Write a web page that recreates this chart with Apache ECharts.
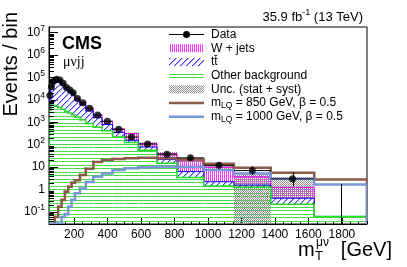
<!DOCTYPE html>
<html>
<head>
<meta charset="utf-8">
<script src="https://cdn.jsdelivr.net/npm/echarts@6.0.0/dist/echarts.min.js"></script>
<style>
html,body{margin:0;padding:0;background:#ffffff;}
#chart{width:407px;height:267px;}
</style>
</head>
<body>
<div id="chart"></div>
<script>
// ---------------- data ----------------
const binEdges = [50,60,70,85,105,125,145,165,185,205,235,270,315,367,430,502,584,695,815,975,1155,1375,1635,1950];
const dataCounts = [15800,39000,69000,83000,77000,55000,36000,27500,21000,11700,7500,4300,2100,1120,490,220,107,38,26,12,7,3,0];
const dataErrUp   = [126,198,263,288,278,235,190,166,145,108,87,66,46,34,23,16,11.4,7.2,6.2,4.6,3.8,2.9,1.8];
const dataErrDown = [126,198,263,288,278,235,190,166,145,108,87,66,46,33,22,15,10.3,6.1,5.1,3.4,2.6,1.6,0];
const otherBkg = [3500,5900,5750,5250,4570,3800,3160,2630,2190,1740,1320,890,600,420,224,126,57.5,14.8,3.47,1.45,1.26,0.22,0.063];
const ttbar    = [7700,22900,48000,57900,57100,40900,27000,19800,14800,8030,4700,2350,1020,375,131,32,22,7.6,2.84,0.79,0.32,0.19,0];
const wjets    = [3900,6600,12400,16300,14200,10300,6950,5150,3900,2250,1560,930,520,280,146,158,33,17.4,14.6,7.76,2.14,0.85,0];
const uncUp    = [1200,2800,5300,6400,6100,4400,3000,2200,1700,1000,610,340,180,100,50,35,20,8,5.4,3.2,1.8,2.2,0];
const uncDown  = [1200,2800,5300,6400,6100,4400,3000,2200,1700,1000,610,340,180,100,50,35,17,8,5.1,2.9,3.72,0.85,0];
const lq850  = [0,0,0,0.06,0.17,0.34,0.8,1.33,2.0,2.6,4.5,8.5,17,21,23,25,26,25,22,14,9.3,5.6,2.8];
const lq1000 = [0,0,0,0,0.03,0.06,0.08,0.17,0.34,0.68,1.12,2.2,3.7,5.2,7.4,8.9,10,10.5,10.5,7.4,5.2,3.0,1.7];
const xTickLabels = [200,400,600,800,1000,1200,1400,1600,1800];
const yTickLabels = [0.1,1,10,100,1000,10000,100000,1000000,10000000];

// ---------------- setup ----------------
const X_MIN = 50, X_MAX = 1950, Y_MIN = 0.029, Y_MAX = 1.8e7;
const FF = '"Liberation Sans", Arial, Helvetica, sans-serif';

const centers = binEdges.slice(0, -1).map((e, i) => (e + binEdges[i + 1]) / 2);
const stackOther = otherBkg.slice();
const stackTt = otherBkg.map((v, i) => v + ttbar[i]);
const stackTotal = stackTt.map((v, i) => v + wjets[i]);
const bandLo = stackTotal.map((v, i) => v - uncDown[i]);
const bandHi = stackTotal.map((v, i) => v + uncUp[i]);
const zeros = stackTotal.map(() => 0);

function cy(v) { if (!(v > Y_MIN)) return Y_MIN; if (v > Y_MAX) return Y_MAX; return v; }

function pattern(w, h, draw) {
  const c = document.createElement('canvas');
  c.width = w; c.height = h;
  const g = c.getContext('2d');
  draw(g, w, h);
  return { image: c, repeat: 'repeat' };
}
const greenPat = pattern(4, 7, (g, w) => { g.fillStyle = '#45dd45'; g.fillRect(0, 0, w, 1); g.fillRect(0, 4, w, 1); });
const ttPat = pattern(6, 6, (g) => {
  for (let i = 0; i < 6; i++) {
    g.fillStyle = '#3c3cff'; g.fillRect(i, 5 - i, 1, 1);
    g.fillStyle = '#a8a8ff'; g.fillRect((i + 1) % 6, 5 - i, 1, 1);
  }
});
const wjPat = pattern(2, 1, (g) => { g.fillStyle = '#ff33ff'; g.fillRect(0, 0, 1, 1); });
const uncPat = pattern(2, 2, (g) => { g.fillStyle = '#8c8c8c'; g.fillRect(0, 0, 1, 1); g.fillRect(1, 1, 1, 1); });

function fillSeries(lo, hi, fill) {
  return {
    type: 'custom', silent: true, clip: true,
    encode: { x: [0, 1], y: [2, 3] },
    data: lo.map((l, i) => [binEdges[i], binEdges[i + 1], l, hi[i]]),
    renderItem(p, api) {
      const a = cy(api.value(2)), b = cy(api.value(3));
      if (b <= a) return { type: 'group', children: [] };
      const p0 = api.coord([api.value(0), b]), p1 = api.coord([api.value(1), a]);
      return { type: 'rect', shape: { x: p0[0], y: p0[1], width: p1[0] - p0[0], height: p1[1] - p0[1] }, style: { fill: fill } };
    }
  };
}

function stepSeries(vals, color, width) {
  return {
    type: 'custom', silent: true, clip: true,
    encode: { x: [0, 1], y: [2, 3] },
    data: vals.map((v, i) => [binEdges[i], binEdges[i + 1], v, i + 1 < vals.length ? vals[i + 1] : 0, i === 0 ? 0 : 1]),
    renderItem(p, api) {
      const x0 = api.value(0), x1 = api.value(1), v = cy(api.value(2)), vn = cy(api.value(3));
      const pts = [];
      if (api.value(4) === 0) pts.push(api.coord([x0, Y_MIN]));
      pts.push(api.coord([x0, v]), api.coord([x1, v]), api.coord([x1, vn]));
      return { type: 'polyline', shape: { points: pts }, style: { stroke: color, lineWidth: width, fill: null, lineJoin: 'miter', lineCap: 'square' } };
    }
  };
}

const minorVals = [];
for (let k = -2; k <= 7; k++) for (let m = 2; m <= 9; m++) {
  const v = m * Math.pow(10, k);
  if (v > Y_MIN && v < Y_MAX) minorVals.push(v);
}

function yLabel(v) {
  const l = Math.log10(v), k = Math.round(l);
  if (Math.abs(l - k) > 1e-6) return '';
  if (!yTickLabels.some(t => Math.abs(Math.log10(t) - k) < 1e-6)) return '';
  if (k === 0) return '{b|1}';
  if (k === 1) return '{b|10}';
  return '{b|10}{s|' + k + '}';
}

const rows = [34.5, 48.2, 61.9, 75.6, 89.3, 103, 116.7];
const SX = 169, SW = 35, TX = 211;
const txt = (t, y) => ({ type: 'text', x: TX, y: y, style: { text: t, font: '12px ' + FF, fill: '#000', verticalAlign: 'middle', align: 'left' } });
const lqText = (t, y) => ({ type: 'text', x: TX, y: y, style: {
  text: '{b|m}{sub|LQ}{b|' + t + '}', verticalAlign: 'middle', align: 'left', fill: '#000',
  rich: { b: { fontSize: 12, fontFamily: FF }, sub: { fontSize: 8.5, fontFamily: FF, padding: [6, 0, 0, 0] } } } });

const chart = echarts.init(document.getElementById('chart'), null, { renderer: 'canvas' });
chart.setOption({
  animation: false,
  backgroundColor: '#ffffff',
  grid: { left: 49, right: 40, top: 27, bottom: 43, show: true, borderColor: '#000', borderWidth: 1, backgroundColor: 'transparent' },
  xAxis: [
    { type: 'value', min: X_MIN, max: X_MAX, position: 'bottom',
      axisLine: { show: true, lineStyle: { color: '#000', width: 1 } },
      axisTick: { show: true, inside: true, length: 6, customValues: xTickLabels, lineStyle: { color: '#000' } },
      axisLabel: { show: true, customValues: xTickLabels, formatter: v => String(v), color: '#000', fontSize: 12, fontFamily: FF, margin: 5 },
      splitLine: { show: false } },
    { type: 'value', min: X_MIN, max: X_MAX, interval: 50, position: 'bottom',
      axisLine: { show: false },
      axisTick: { show: true, inside: true, length: 3, lineStyle: { color: '#000' } },
      axisLabel: { show: false }, splitLine: { show: false } }
  ],
  yAxis: [
    { type: 'log', logBase: 10, min: Y_MIN, max: Y_MAX,
      axisLine: { show: true, lineStyle: { color: '#000', width: 1 } },
      axisTick: { show: true, inside: true, length: 9, lineStyle: { color: '#000' } },
      axisLabel: { formatter: yLabel, margin: 4, showMinLabel: false, showMaxLabel: false, color: '#000',
        rich: { b: { fontSize: 12, fontFamily: FF, color: '#000' }, s: { fontSize: 8.5, fontFamily: FF, color: '#000', padding: [0, 0, 8, 0] } } },
      splitLine: { show: false } }
  ],
  series: [
    fillSeries(zeros, stackOther, greenPat),
    fillSeries(stackOther, stackTt, ttPat),
    fillSeries(stackTt, stackTotal, wjPat),
    fillSeries(bandLo, bandHi, uncPat),
    stepSeries(stackTotal, '#ee00ee', 1),
    stepSeries(stackTt, '#0000ee', 1),
    stepSeries(stackOther, '#22dd22', 1.5),
    stepSeries(lq850, '#8b5a48', 2.5),
    stepSeries(lq1000, '#7896da', 2.5),
    { type: 'custom', silent: true, clip: true,
      encode: { x: 0, y: 1 },
      data: minorVals.map(v => [X_MIN, v]),
      renderItem(p, api) {
        const pt = api.coord([X_MIN, api.value(1)]);
        const y = Math.round(pt[1]) + 0.5;
        return { type: 'line', shape: { x1: pt[0], y1: y, x2: pt[0] + 5, y2: y }, style: { stroke: '#000', lineWidth: 1 } };
      } },
    { type: 'custom', silent: true, clip: true,
      encode: { x: [0, 1], y: [2, 3, 4] },
      data: centers.map((c, i) => [binEdges[i], binEdges[i + 1], dataCounts[i], dataCounts[i] - dataErrDown[i], dataCounts[i] + dataErrUp[i]]),
      renderItem(p, api) {
        const x0 = api.value(0), x1 = api.value(1), v = api.value(2);
        const xc = (x0 + x1) / 2;
        const ch = [];
        const hi = api.value(4);
        if (hi > Y_MIN) {
          const a = api.coord([xc, cy(api.value(3))]), b = api.coord([xc, cy(hi)]);
          const xx = Math.round(a[0]) + 0.5;
          ch.push({ type: 'line', shape: { x1: xx, y1: a[1], x2: xx, y2: b[1] }, style: { stroke: '#000', lineWidth: 1 } });
        }
        if (v > 0) {
          const a = api.coord([x0, v]), b = api.coord([x1, v]);
          ch.push({ type: 'line', shape: { x1: a[0], y1: a[1], x2: b[0], y2: b[1] }, style: { stroke: '#000', lineWidth: 1 } });
        }
        return { type: 'group', children: ch };
      } },
    { type: 'scatter', silent: true, symbol: 'circle', symbolSize: 7,
      itemStyle: { color: '#000' },
      data: centers.map((c, i) => [c, dataCounts[i]]).filter(d => d[1] > 0) }
  ],
  graphic: { elements: [
    // legend
    { type: 'line', shape: { x1: SX, y1: rows[0], x2: SX + SW, y2: rows[0] }, style: { stroke: '#000', lineWidth: 1 } },
    { type: 'circle', shape: { cx: SX + SW / 2, cy: rows[0], r: 3.5 }, style: { fill: '#000' } },
    { type: 'rect', shape: { x: SX, y: rows[1] - 4, width: SW, height: 8 }, style: { fill: wjPat } },
    { type: 'rect', shape: { x: SX, y: rows[2] - 4, width: SW, height: 8 }, style: { fill: ttPat } },
    { type: 'rect', shape: { x: SX, y: rows[3] - 4, width: SW, height: 8 }, style: { fill: greenPat } },
    { type: 'rect', shape: { x: SX, y: rows[4] - 4, width: SW, height: 8 }, style: { fill: uncPat } },
    { type: 'line', shape: { x1: SX, y1: rows[5], x2: SX + SW, y2: rows[5] }, style: { stroke: '#8b5a48', lineWidth: 2.5 } },
    { type: 'line', shape: { x1: SX, y1: rows[6], x2: SX + SW, y2: rows[6] }, style: { stroke: '#7896da', lineWidth: 2.5 } },
    txt('Data', rows[0]),
    txt('W + jets', rows[1]),
    txt('t\u0074\u0304', rows[2]),
    txt('Other background', rows[3]),
    txt('Unc. (stat + syst)', rows[4]),
    lqText(' = 850 GeV, \u03B2 = 0.5', rows[5]),
    lqText(' = 1000 GeV, \u03B2 = 0.5', rows[6]),
    // header texts
    { type: 'text', x: 363, y: 17, style: { text: '{b|35.9 fb}{s|-1}{b| (13 TeV)}', align: 'right', verticalAlign: 'middle', fill: '#000',
      rich: { b: { fontSize: 13, fontFamily: FF }, s: { fontSize: 9, fontFamily: FF, padding: [0, 0, 8, 0] } } } },
    { type: 'text', x: 62, y: 44, style: { text: 'CMS', font: 'bold 18px ' + FF, fill: '#000', verticalAlign: 'middle', align: 'left' } },
    { type: 'text', x: 63, y: 62, style: { text: '\u03BC\u03BDjj', font: '14px "Liberation Serif", "Times New Roman", serif', fill: '#000', verticalAlign: 'middle', align: 'left' } },
    // axis titles
    { type: 'text', x: 11, y: 12, rotation: Math.PI / 2, style: { text: 'Events / bin', font: '20px ' + FF, fill: '#000', align: 'right', verticalAlign: 'middle' } },
    { type: 'text', x: 298, y: 250, style: { text: 'm', font: '20px ' + FF, fill: '#000', align: 'left', verticalAlign: 'middle' } },
    { type: 'text', x: 315, y: 256, style: { text: 'T', font: '13px ' + FF, fill: '#000', align: 'left', verticalAlign: 'middle' } },
    { type: 'text', x: 316, y: 243, style: { text: '\u03BC\u03BD', font: '12px ' + FF, fill: '#000', align: 'left', verticalAlign: 'middle' } },
    { type: 'text', x: 392, y: 250, style: { text: '[GeV]', font: '20px ' + FF, fill: '#000', align: 'right', verticalAlign: 'middle' } }
  ] }
});
</script>
</body>
</html>
